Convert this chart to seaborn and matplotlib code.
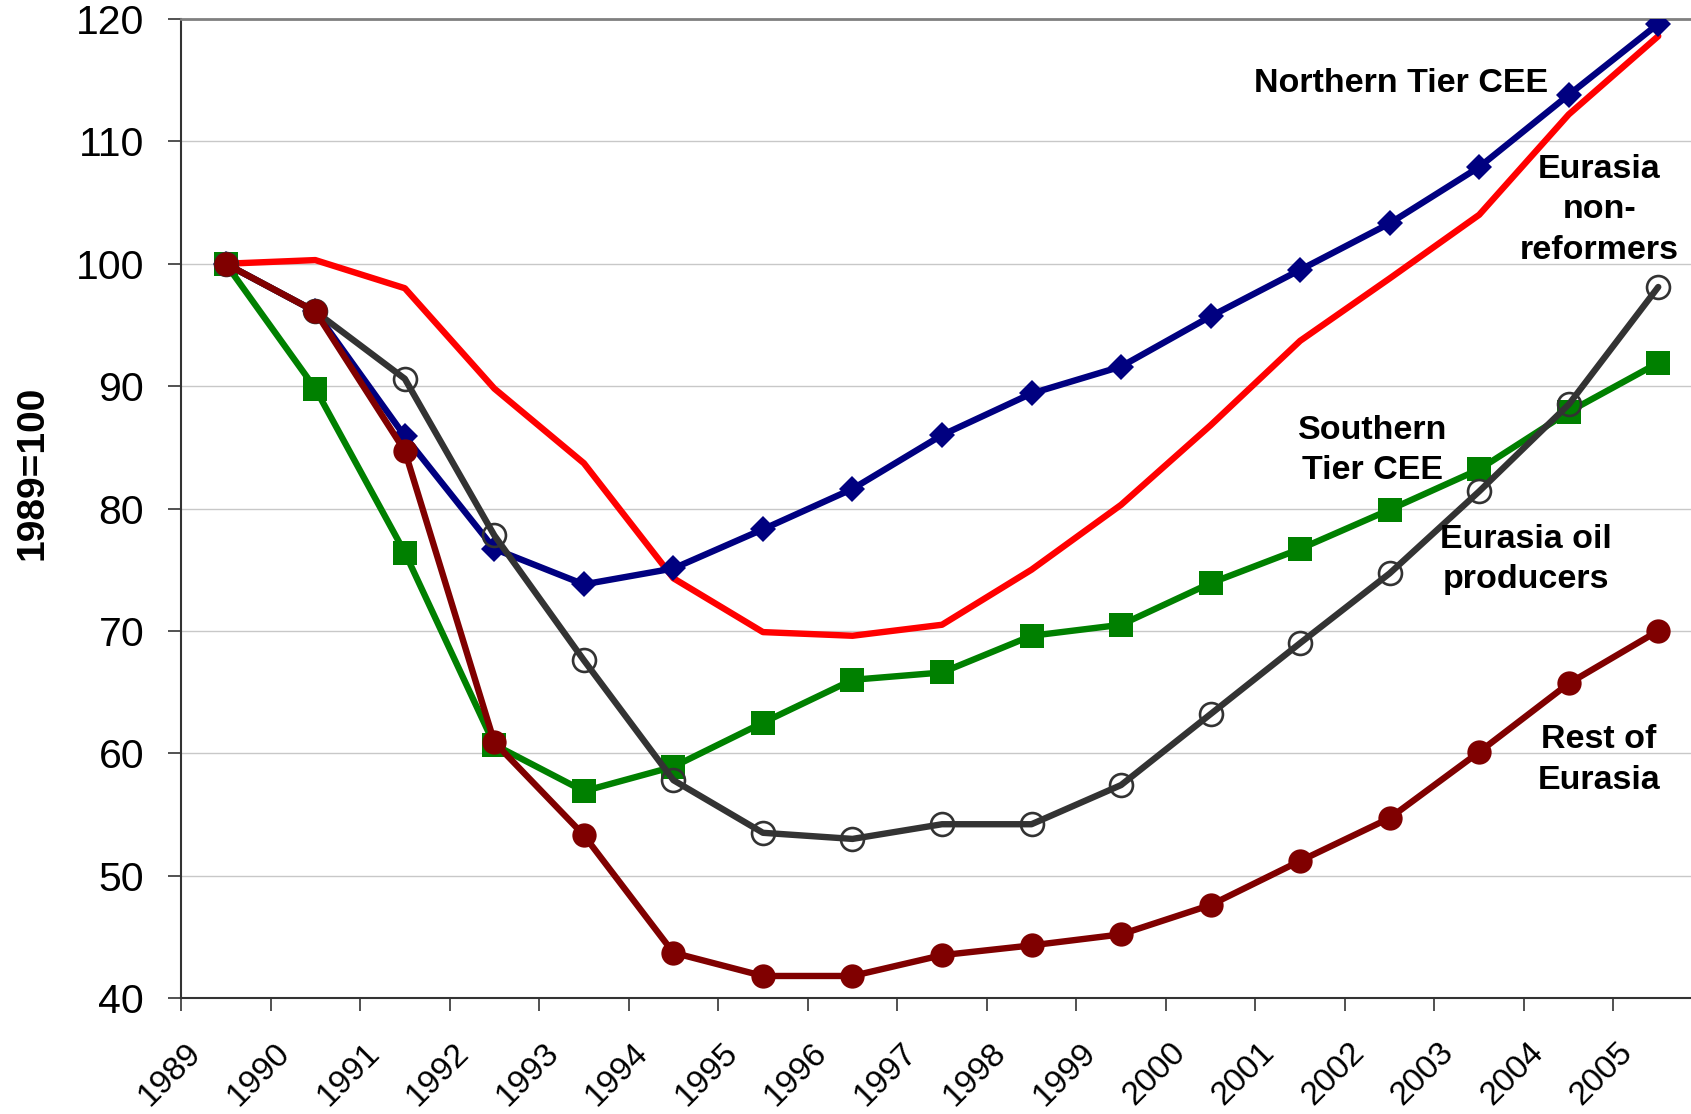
import numpy as np
import pandas as pd
import matplotlib
matplotlib.use("Agg")
import matplotlib.pyplot as plt
import matplotlib.transforms as mtransforms
import seaborn as sns
from matplotlib.ticker import MultipleLocator, FixedLocator

# data (1989 = 100)
years = [str(y) for y in range(1989, 2006)]
northern_tier = [100, 96.1, 85.9, 76.7, 73.8, 75.1, 78.3, 81.6, 86.0, 89.4,
                 91.6, 95.7, 99.5, 103.3, 107.9, 113.8, 119.6]
non_reformers = [100, 100.3, 98.0, 89.8, 83.7, 74.3, 69.9, 69.6, 70.5, 75.0,
                 80.3, 86.8, 93.7, 98.8, 104.0, 112.2, 118.6]
southern_tier = [100, 89.8, 76.4, 60.7, 56.9, 58.9, 62.5, 66.0, 66.6, 69.6,
                 70.5, 73.9, 76.7, 79.9, 83.2, 87.9, 91.9]
oil_producers = [100, 96.1, 90.6, 77.8, 67.6, 57.8, 53.5, 53.0, 54.2, 54.2,
                 57.4, 63.2, 69.0, 74.7, 81.4, 88.5, 98.1]
rest_eurasia = [100, 96.1, 84.7, 60.9, 53.3, 43.7, 41.8, 41.8, 43.5, 44.3,
                45.2, 47.6, 51.2, 54.7, 60.1, 65.7, 70.0]

df = pd.DataFrame({
    "idx": np.arange(len(years)),
    "northern": northern_tier,
    "nonref": non_reformers,
    "southern": southern_tier,
    "oil": oil_producers,
    "rest": rest_eurasia,
})

sns.set_style("white")
plt.rcParams["font.family"] = ["Liberation Sans", "DejaVu Sans"]
plt.rcParams["text.color"] = "black"
plt.rcParams["axes.labelcolor"] = "black"
plt.rcParams["xtick.color"] = "black"
plt.rcParams["ytick.color"] = "black"

fig = plt.figure(figsize=(16.91, 11.14), dpi=100)
ax = fig.add_axes([181 / 1691, 1 - 998 / 1114, 1522 / 1691, 979 / 1114])

lw = 4.6
# draw order: red, navy, green, gray, dark red
sns.lineplot(data=df, x="idx", y="nonref", ax=ax, color="#FF0000", lw=lw,
             zorder=3)
sns.lineplot(data=df, x="idx", y="northern", ax=ax, color="#000080", lw=lw,
             marker="D", markersize=13.5, mec="#000080", mfc="#000080", mew=0,
             zorder=4)
sns.lineplot(data=df, x="idx", y="southern", ax=ax, color="#008000", lw=lw,
             marker="s", markersize=17, mec="#008000", mfc="#008000", mew=0,
             zorder=5)
sns.lineplot(data=df, x="idx", y="oil", ax=ax, color="#333333", lw=lw,
             marker="o", markersize=16.5, mec="#333333", mfc="none", mew=1.9,
             zorder=6)
sns.lineplot(data=df, x="idx", y="rest", ax=ax, color="#800000", lw=lw,
             marker="o", markersize=17.5, mec="#800000", mfc="#800000", mew=0,
             zorder=7)

ax.set_xlim(-0.5, len(years) - 0.5)
ax.set_ylim(40, 120)
ax.yaxis.set_major_locator(MultipleLocator(10))
ax.set_xticks(np.arange(len(years)))
ax.set_xticklabels(years, rotation=45, ha="right", va="center",
                   rotation_mode="anchor")
ax.xaxis.set_minor_locator(FixedLocator(np.arange(len(years) + 1) - 0.5))
ax.tick_params(axis="x", which="major", length=0, pad=36, labelsize=24)
ax.tick_params(axis="x", which="minor", length=9, width=1.2, color="#333333",
               direction="out", bottom=True)
ax.tick_params(axis="y", length=9.5, width=1.2, color="#333333", pad=17,
               labelsize=29.5, left=True)

# shift the rotated year labels left of the category centre, as in the original
shift = mtransforms.ScaledTranslation(-0.30, 0, fig.dpi_scale_trans)
for lab in ax.get_xticklabels():
    lab.set_transform(lab.get_transform() + shift)

ax.grid(axis="y", color="#C8C8C8", lw=1)
ax.set_axisbelow(True)
for side in ["left", "bottom"]:
    ax.spines[side].set_color("#333333")
    ax.spines[side].set_linewidth(1.5)
ax.spines["top"].set_color("#808080")
ax.spines["top"].set_linewidth(2)
ax.spines["right"].set_visible(False)

ax.set_xlabel("")
ax.set_ylabel("1989=100", fontsize=28, fontweight="bold")
ax.yaxis.set_label_coords(-0.086, 0.536)

labels = [
    (13.13, 114.75, "Northern Tier CEE"),
    (15.34, 104.4, "Eurasia\nnon-\nreformers"),
    (12.81, 84.75, "Southern\nTier CEE"),
    (14.52, 75.85, "Eurasia oil\nproducers"),
    (15.34, 59.45, "Rest of\nEurasia"),
]
for x, y, t in labels:
    ax.text(x, y, t, ha="center", va="center", fontsize=24.5,
            fontweight="bold", linespacing=1.38, zorder=10)

fig.savefig("out.png", dpi=100)
